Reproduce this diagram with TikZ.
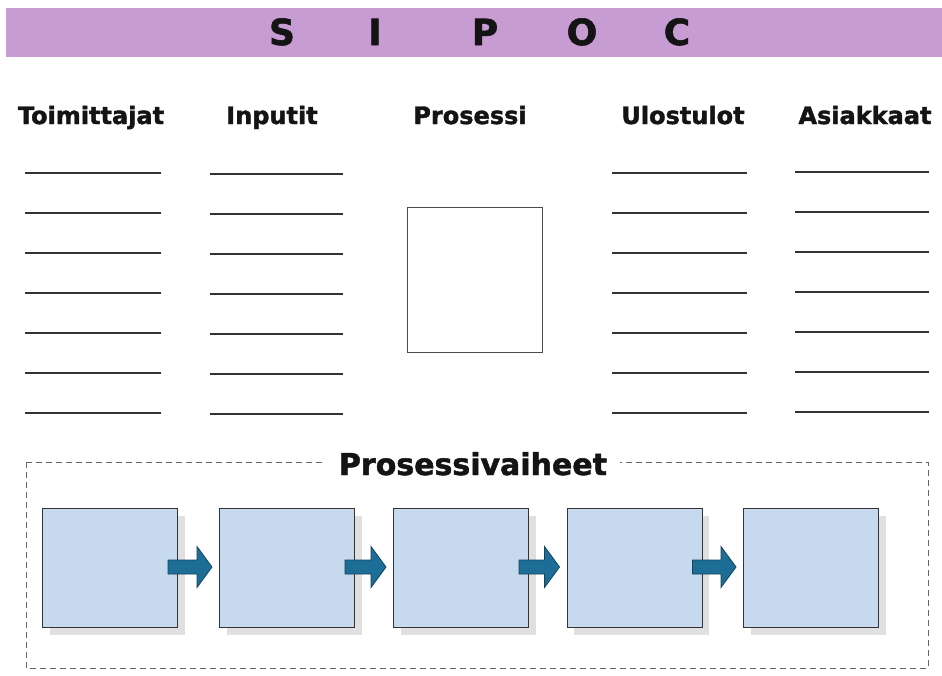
\documentclass[tikz,border=0pt]{standalone}
\usepackage{fontspec}
\setmainfont{DejaVu Sans}[BoldFeatures={FakeBold=1.6}]
\usetikzlibrary{shadows,calc}

\definecolor{bandpurple}{HTML}{C69CD2}
\definecolor{stepblue}{HTML}{C6D9EF}
\definecolor{arrowteal}{HTML}{1D6E96}
\definecolor{arrowedge}{HTML}{12445E}
\definecolor{inkdark}{HTML}{141414}

\begin{document}
\begin{tikzpicture}[x=1pt,y=-1pt,
  letter/.style={font=\fontsize{36}{36}\selectfont\bfseries, text=inkdark, anchor=base, inner sep=0},
  header/.style={font=\fontsize{24}{24}\selectfont\bfseries, text=inkdark, anchor=base, inner sep=0},
  blankline/.style={draw=black!80, line width=1.1pt},
  stepbox/.style={draw=black!80, line width=1pt, fill=stepblue,
    minimum width=135pt, minimum height=119pt, inner sep=0,
    drop shadow={shadow xshift=7pt, shadow yshift=-7pt, fill=black!12, opacity=1}},
  steparrow/.style={fill=arrowteal, draw=arrowedge, line width=0.8pt, line join=miter}
]
\useasboundingbox (0,0) rectangle (942,675);
\fill[white] (0,0) rectangle (942,675);

% title band
\fill[bandpurple] (6,8) rectangle (942,57);
\node[letter] (lS) at (282,45) {S};
\node[letter] (lI) at (375,45) {I};
\node[letter] (lP) at (485,45) {P};
\node[letter] (lO) at (582,45) {O};
\node[letter] (lC) at (677,45) {C};

% column headings
\node[header] (hS) at (91,124) {Toimittajat};
\node[header] (hI) at (272,124) {Inputit};
\node[header] (hP) at (470,124) {Prosessi};
\node[header] (hO) at (683,124) {Ulostulot};
\node[header] (hC) at (865,124) {Asiakkaat};

% writing lines
\foreach \i in {0,...,6} {
  \draw[blankline] (25,173+40*\i) -- (161,173+40*\i);
  \draw[blankline] (210,174+40*\i) -- (343,174+40*\i);
  \draw[blankline] (612,173+40*\i) -- (747,173+40*\i);
  \draw[blankline] (795,172+40*\i) -- (929,172+40*\i);
}

% process box
\draw[draw=black!70, line width=1pt, fill=white] (407,207) rectangle (542,352);

% process steps frame
\draw[draw=black!60, line width=0.9pt, dash pattern=on 6pt off 4pt] (26,462) rectangle (928,668);
\node[font=\fontsize{30}{30}\selectfont\bfseries, text=inkdark, fill=white,
      inner xsep=13pt, inner ysep=2pt, anchor=base] (ptitle) at (473,475) {Prosessivaiheet};

% step boxes
\node[stepbox] (b1) at (110,568) {};
\node[stepbox] (b2) at (287,568) {};
\node[stepbox] (b3) at (461,568) {};
\node[stepbox] (b4) at (634.5,568) {};
\node[stepbox] (b5) at (811,568) {};

% block arrows between steps
\foreach \a/\b in {b1/b2,b2/b3,b3/b4,b4/b5} {
  \path ($(\a.east)+(-10,-1)$) coordinate (s) ($(\b.west)+(-7,-1)$) coordinate (t);
  \draw[steparrow] ($(s)+(0,-7)$) -- ($(t)+(-15,-7)$) -- ($(t)+(-15,-20.5)$) -- (t)
    -- ($(t)+(-15,20.5)$) -- ($(t)+(-15,7)$) -- ($(s)+(0,7)$) -- cycle;
}
\end{tikzpicture}
\end{document}
